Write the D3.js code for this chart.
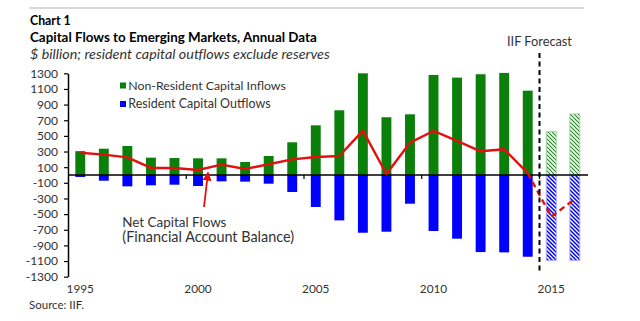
<!DOCTYPE html>
<html><head><meta charset="utf-8">
<script src="https://cdn.jsdelivr.net/npm/d3@7"></script>
<style>body{margin:0;background:#fff}svg{display:block}text{font-family:Lato,"Open Sans",sans-serif;fill:#333}</style>
</head><body><svg id="c" width="640" height="321"></svg>
<script>
const years = [1995,1996,1997,1998,1999,2000,2001,2002,2003,2004,2005,2006,2007,2008,2009,2010,2011,2012,2013,2014,2015,2016];
const inflows = [305,336,371,222,217,213,213,166,243,418,635,827,1300,738,776,1279,1245,1288,1305,1078,554,780];
const outflows = [-25,-73,-145,-132,-124,-141,-81,-85,-111,-217,-409,-580,-738,-725,-367,-716,-814,-985,-989,-1045,-1091,-1091];
const netFlows = [285,260,226,90,90,64,132,77,137,200,230,243,567,13,413,563,435,303,329,25,-533,-307];
const forecastYears = [2015,2016];
const yTicks = [1300,1100,900,700,500,300,100,-100,-300,-500,-700,-900,-1100,-1300];
const xLabels = [1995,2000,2005,2010,2015];

const svg = d3.select("#c");
const defs = svg.append("defs");
function hatch(id, color, sw){
  const p = defs.append("pattern").attr("id",id).attr("patternUnits","userSpaceOnUse").attr("width",4).attr("height",4);
  p.append("rect").attr("width",4).attr("height",4).attr("fill","#fff");
  p.append("path").attr("d","M-1,-1L5,5M-1,3L1,5M3,-1L5,1").attr("stroke",color).attr("stroke-width",sw);
}
hatch("hG","#1a8a1a",1.1);
hatch("hB","#0000ee",1.5);
defs.append("marker").attr("id","arr").attr("viewBox","0 0 10 10").attr("refX",9).attr("refY",5)
  .attr("markerWidth",5).attr("markerHeight",6).attr("orient","auto")
  .append("path").attr("d","M0,0L10,5L0,10z").attr("fill","#e41010");

function fit(sel, w){
  const n = sel.node(); const fs = parseFloat(sel.attr("font-size"));
  const cw = n.getComputedTextLength(); sel.attr("font-size", fs*w/cw);
}

// header
svg.append("line").attr("x1",29).attr("x2",584).attr("y1",8).attr("y2",8).attr("stroke","#ccc").attr("stroke-width",1.5);
fit(svg.append("text").attr("x",30).attr("y",25).attr("font-size",13).attr("font-weight","bold").style("fill","#000").text("Chart 1"),40.7);
fit(svg.append("text").attr("x",30).attr("y",42).attr("font-size",13).attr("font-weight","bold").style("fill","#000").text("Capital Flows to Emerging Markets, Annual Data"),287);
fit(svg.append("text").attr("x",30).attr("y",58.5).attr("font-size",12).attr("font-style","italic").style("fill","#333").text("$ billion; resident capital outflows exclude reserves"),300);

const x = d3.scaleBand().domain(years).range([68.5,586.6]).paddingInner(0.58).paddingOuter(0.29);
const y = d3.scaleLinear().domain([-1300,1300]).range([276.7,73.3]);
const step = x.step();
const cx = d => x(d) + x.bandwidth()/2;

// y axis
const ya = svg.append("g").attr("transform","translate(68,0)")
  .call(d3.axisLeft(y).tickValues(yTicks).tickFormat(d => String(d)).tickSize(4).tickSizeOuter(0).tickPadding(6));
ya.select(".domain").attr("stroke","#000").attr("stroke-width",1.5);
ya.selectAll(".tick line").attr("stroke","#000").attr("stroke-width",1.2);
ya.selectAll(".tick text").attr("font-size",12).attr("font-family","Lato").style("fill","#333");

// bars
const isF = d => forecastYears.includes(d);
svg.append("g").selectAll("rect").data(years).join("rect")
  .attr("x",d=>x(d)).attr("width",x.bandwidth())
  .attr("y",(d,i)=>y(inflows[i])).attr("height",(d,i)=>y(0)-y(inflows[i]))
  .attr("fill",d=>isF(d)?"url(#hG)":"#0a7f0a").attr("stroke",d=>isF(d)?"#9fd09f":"none").attr("stroke-width",1);
svg.append("g").selectAll("rect").data(years).join("rect")
  .attr("x",d=>x(d)).attr("width",x.bandwidth())
  .attr("y",y(0)).attr("height",(d,i)=>y(outflows[i])-y(0))
  .attr("fill",d=>isF(d)?"url(#hB)":"#0000ff").attr("stroke",d=>isF(d)?"#a8a8f0":"none").attr("stroke-width",1);

// zero line & x ticks
svg.append("line").attr("x1",68).attr("x2",588).attr("y1",y(0)).attr("y2",y(0)).attr("stroke","#000").attr("stroke-width",1.6);
svg.append("g").selectAll("line").data(xLabels.slice(1)).join("line")
  .attr("x1",d=>x(d)-(step-x.bandwidth())/2).attr("x2",d=>x(d)-(step-x.bandwidth())/2)
  .attr("y1",y(0)).attr("y2",y(0)+4).attr("stroke","#000").attr("stroke-width",1.2);
svg.append("g").selectAll("text").data(xLabels).join("text")
  .attr("x",d=>cx(d)).attr("y",292.5).attr("text-anchor","middle").attr("font-size",11.8).text(d=>d);

// net line
const line = d3.line().x(d=>cx(d.yr)).y(d=>y(d.v));
const pts = years.map((yr,i)=>({yr,v:netFlows[i]}));
const iSplit = years.indexOf(2014);
svg.append("path").attr("d",line(pts.slice(0,iSplit+1))).attr("fill","none").attr("stroke","#e41010").attr("stroke-width",2.4).attr("stroke-linejoin","round");
svg.append("path").attr("d",line(pts.slice(iSplit))).attr("fill","none").attr("stroke","#e41010").attr("stroke-width",2.4).attr("stroke-dasharray","6,4");

// forecast divider
const fx = x(2015)-(step-x.bandwidth())/2;
svg.append("line").attr("x1",fx).attr("x2",fx).attr("y1",53).attr("y2",273).attr("stroke","#000").attr("stroke-width",2).attr("stroke-dasharray","5,3.5");
fit(svg.append("text").attr("x",fx).attr("y",45.5).attr("text-anchor","middle").attr("font-size",12).text("IIF Forecast"),65);

// legend
svg.append("rect").attr("x",120).attr("y",82.5).attr("width",6).attr("height",6).attr("fill","#0a7f0a");
svg.append("rect").attr("x",120).attr("y",101).attr("width",6).attr("height",6).attr("fill","#0000ff");
fit(svg.append("text").attr("x",128.3).attr("y",89.5).attr("font-size",12).text("Non-Resident Capital Inflows"),157.7);
fit(svg.append("text").attr("x",128.3).attr("y",108).attr("font-size",12).text("Resident Capital Outflows"),142.3);

// annotation
svg.append("line").attr("x1",204).attr("y1",207).attr("x2",208).attr("y2",172.5).attr("stroke","#e41010").attr("stroke-width",1.8).attr("marker-end","url(#arr)");
fit(svg.append("text").attr("x",122.3).attr("y",226.5).attr("font-size",12).text("Net Capital Flows"),104.3);
fit(svg.append("text").attr("x",122.3).attr("y",242).attr("font-size",12).text("(Financial Account Balance)"),172);

fit(svg.append("text").attr("x",29).attr("y",308.5).attr("font-size",11).text("Source: IIF."),55);
</script></body></html>
